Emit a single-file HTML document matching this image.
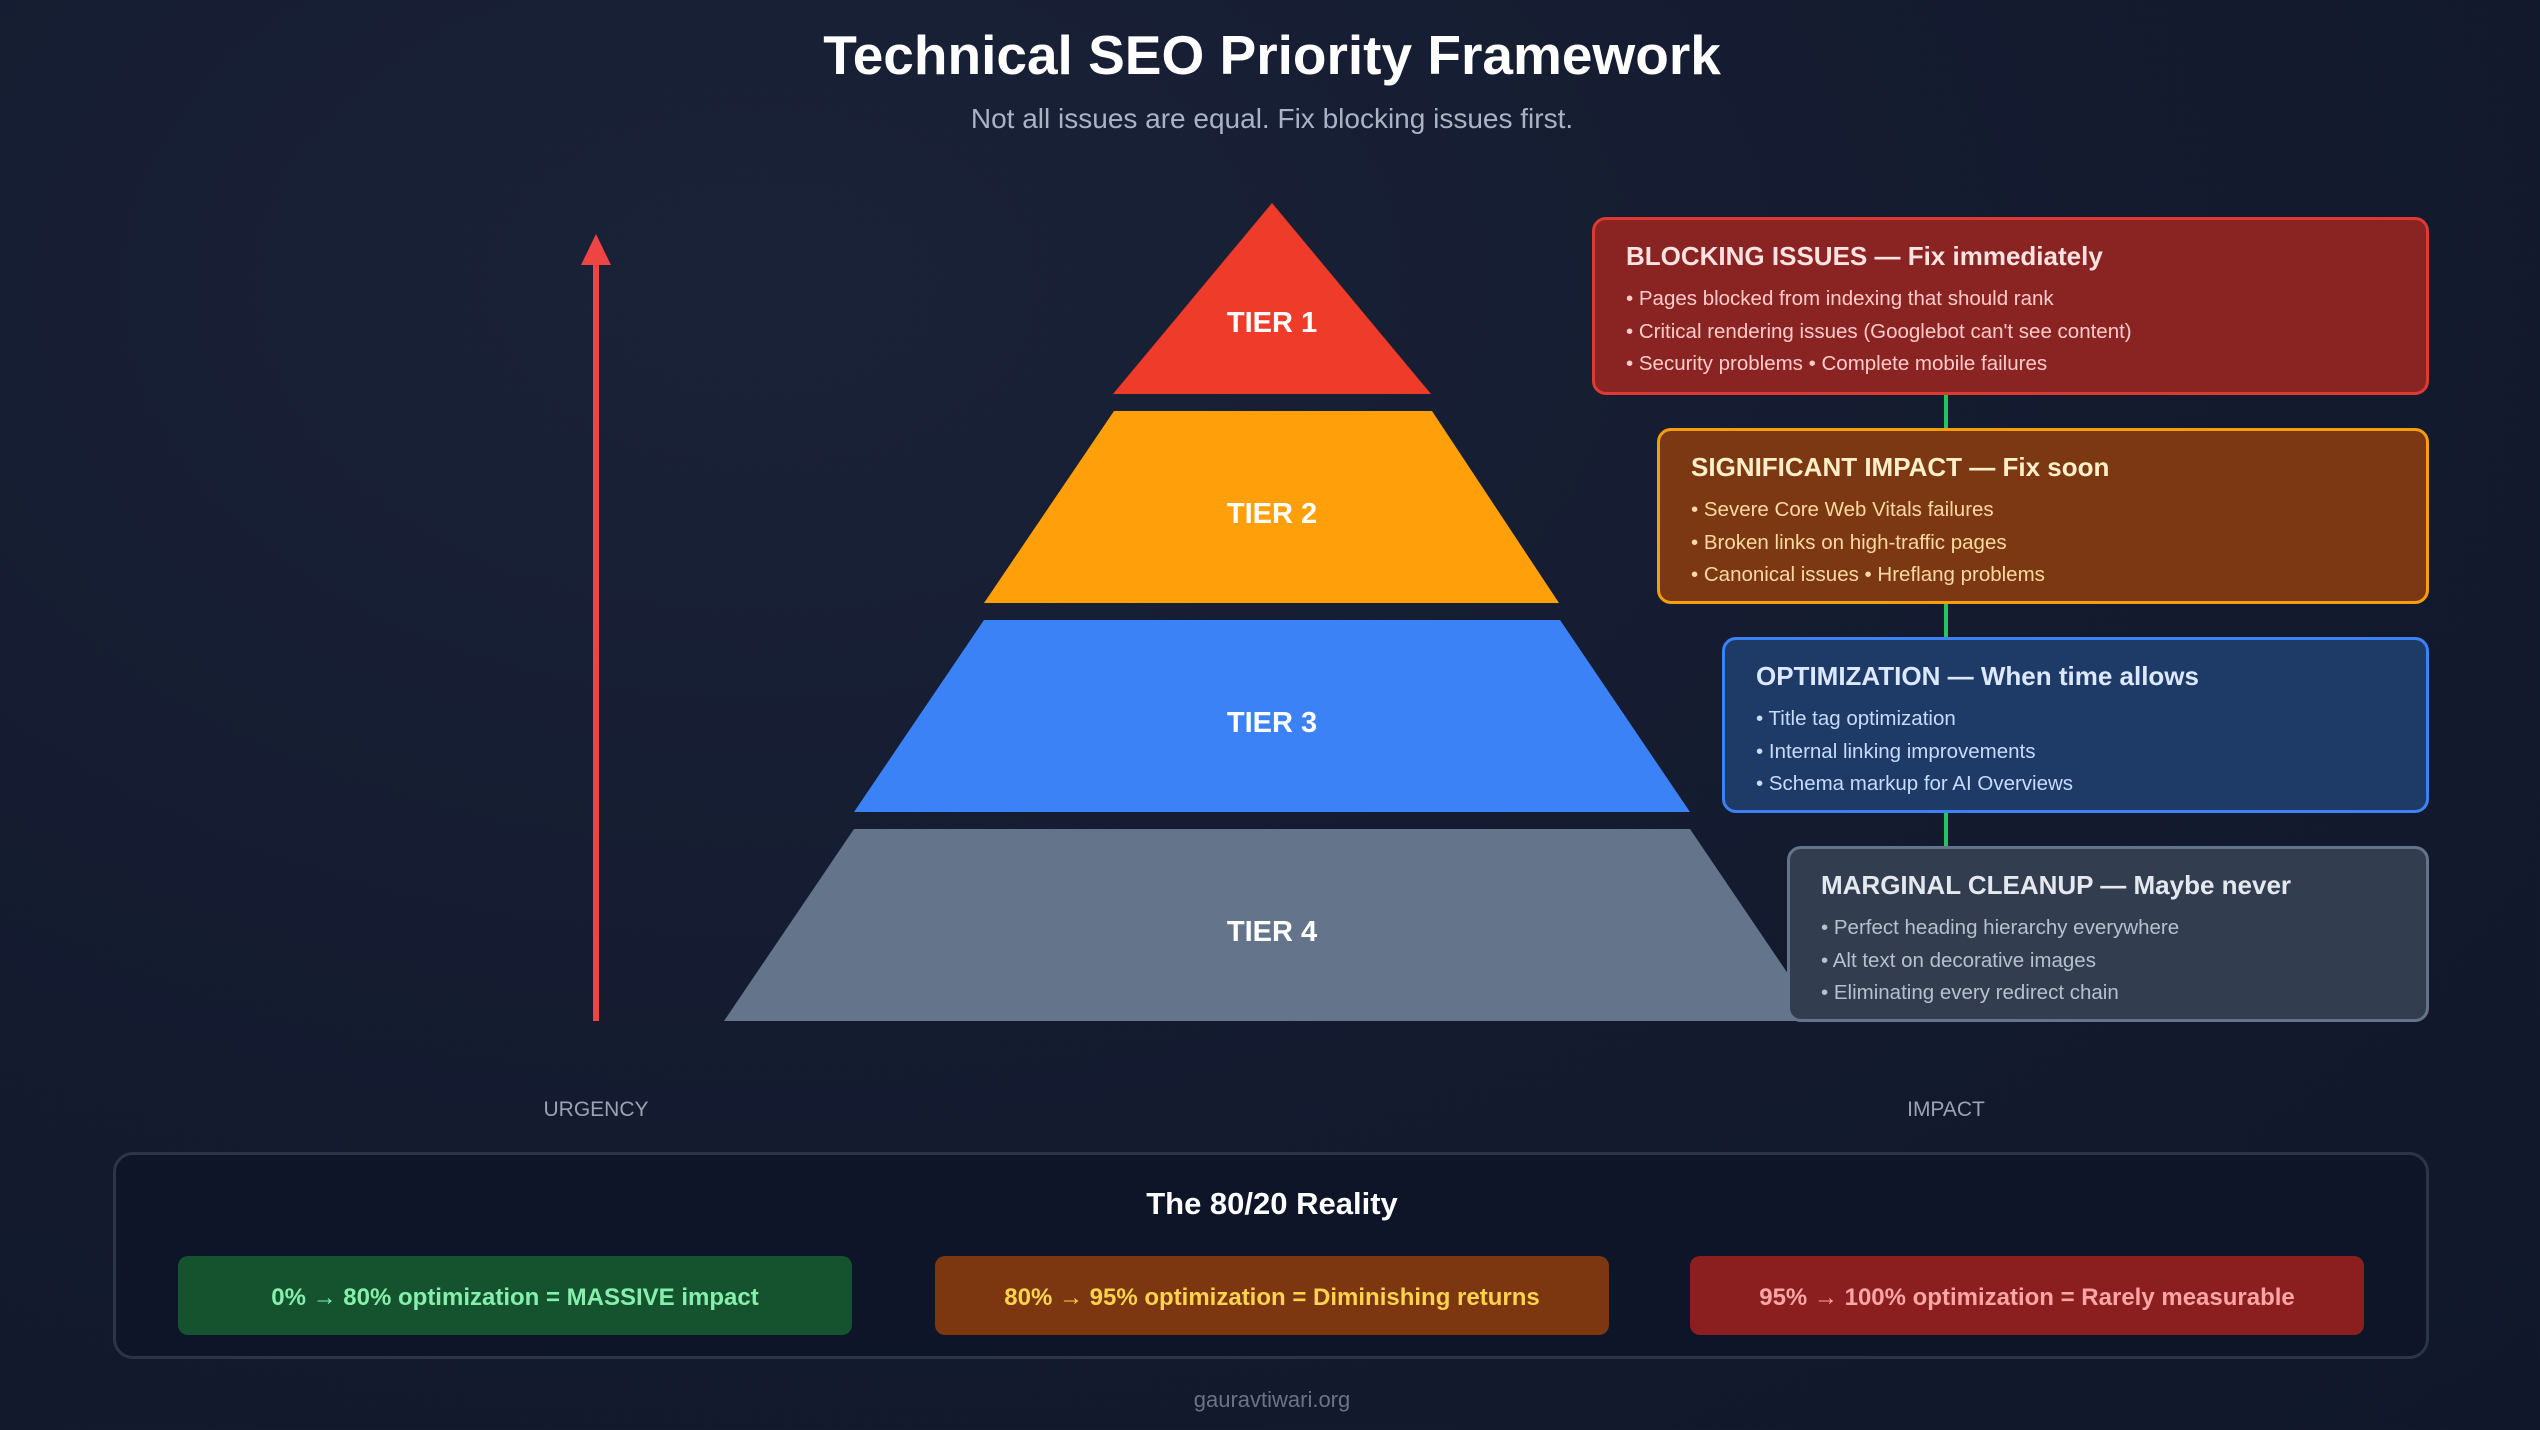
<!DOCTYPE html>
<html><head><meta charset="utf-8"><style>
body{margin:0;width:2540px;height:1430px;overflow:hidden;background:radial-gradient(ellipse at 30% 20%,#1a2238 0%,#131a2e 60%,#10172a 100%);font-family:"Liberation Sans",sans-serif;position:relative}
.t{position:absolute;white-space:nowrap}
.box{position:absolute;border:3px solid;border-radius:14px;box-sizing:border-box;padding:21px 0 0 31px}
.box h3{margin:0 0 11px;font-size:26px;font-weight:bold}
.box div{font-size:20.5px;line-height:32.5px}
.btn{position:absolute;top:1256px;height:79px;width:674px;border-radius:10px;display:flex;align-items:center;justify-content:center;font-size:24px;font-weight:bold;padding-top:5px;box-sizing:border-box}
</style></head><body>
<div class="t" style="left:0;width:2544px;text-align:center;top:23px;font-size:55px;font-weight:bold;color:#fff">Technical SEO Priority Framework</div>
<div class="t" style="left:0;width:2544px;text-align:center;top:103px;font-size:28px;color:#aab3c5">Not all issues are equal. Fix blocking issues first.</div>
<svg style="position:absolute;left:0;top:0" width="2540" height="1430">
<line x1="596" y1="260" x2="596" y2="1021" stroke="#ef4444" stroke-width="6"/>
<polygon points="596,234 581,265 611,265" fill="#ef4444"/>
<polygon points="1272,203 1431,394 1113,394" fill="#ee3b2a"/>
<polygon points="1114,411 1432,411 1559,603 984,603" fill="#ff9f0a"/>
<polygon points="984,620 1560,620 1690,812 854,812" fill="#3b82f6"/>
<polygon points="854,829 1690,829 1820,1021 724,1021" fill="#64748b"/>
<g font-family="Liberation Sans" font-weight="bold" font-size="29" fill="#fff" text-anchor="middle">
<text x="1272" y="332">TIER 1</text><text x="1272" y="523">TIER 2</text><text x="1272" y="732">TIER 3</text><text x="1272" y="941">TIER 4</text></g>
<g stroke="#22c55e" stroke-width="4"><line x1="1946" y1="394" x2="1946" y2="428"/><line x1="1946" y1="603" x2="1946" y2="637"/><line x1="1946" y1="812" x2="1946" y2="846"/></g>
</svg>
<div class="box" style="left:1592px;top:217px;width:837px;height:178px;background:#8a2422;border-color:#dc3a32;color:#fecaca"><h3 style="color:#fde2e2">BLOCKING ISSUES — Fix immediately</h3><div>• Pages blocked from indexing that should rank<br>• Critical rendering issues (Googlebot can't see content)<br>• Security problems • Complete mobile failures</div></div>
<div class="box" style="left:1657px;top:428px;width:772px;height:176px;background:#7c3812;border-color:#f59e0b;color:#fcd9a0"><h3 style="color:#fdf0c8">SIGNIFICANT IMPACT — Fix soon</h3><div>• Severe Core Web Vitals failures<br>• Broken links on high-traffic pages<br>• Canonical issues • Hreflang problems</div></div>
<div class="box" style="left:1722px;top:637px;width:707px;height:176px;background:#1e3a66;border-color:#3b82f6;color:#c7dbfb"><h3 style="color:#dbe8fd">OPTIMIZATION — When time allows</h3><div>• Title tag optimization<br>• Internal linking improvements<br>• Schema markup for AI Overviews</div></div>
<div class="box" style="left:1787px;top:846px;width:642px;height:176px;background:#333d50;border-color:#64748b;color:#b8c0cc"><h3 style="color:#e5e9ef">MARGINAL CLEANUP — Maybe never</h3><div>• Perfect heading hierarchy everywhere<br>• Alt text on decorative images<br>• Eliminating every redirect chain</div></div>
<div class="t" style="left:496px;width:200px;text-align:center;top:1098px;font-size:21px;color:#9aa3b2">URGENCY</div>
<div class="t" style="left:1846px;width:200px;text-align:center;top:1098px;font-size:21px;color:#9aa3b2">IMPACT</div>
<div style="position:absolute;left:113px;top:1152px;width:2316px;height:207px;box-sizing:border-box;border:3px solid #2c3548;border-radius:20px;background:#0f1528"></div>
<div class="t" style="left:0;width:2544px;text-align:center;top:1186px;font-size:31px;font-weight:bold;color:#fff">The 80/20 Reality</div>
<div class="btn" style="left:178px;background:#14532d;color:#86efac">0% → 80% optimization = MASSIVE impact</div>
<div class="btn" style="left:935px;background:#7c3610;color:#fcd34d">80% → 95% optimization = Diminishing returns</div>
<div class="btn" style="left:1690px;background:#8b1f1f;color:#fca5a5">95% → 100% optimization = Rarely measurable</div>
<div class="t" style="left:0;width:2544px;text-align:center;top:1387px;font-size:22px;color:#6b7384">gauravtiwari.org</div>
</body></html>
